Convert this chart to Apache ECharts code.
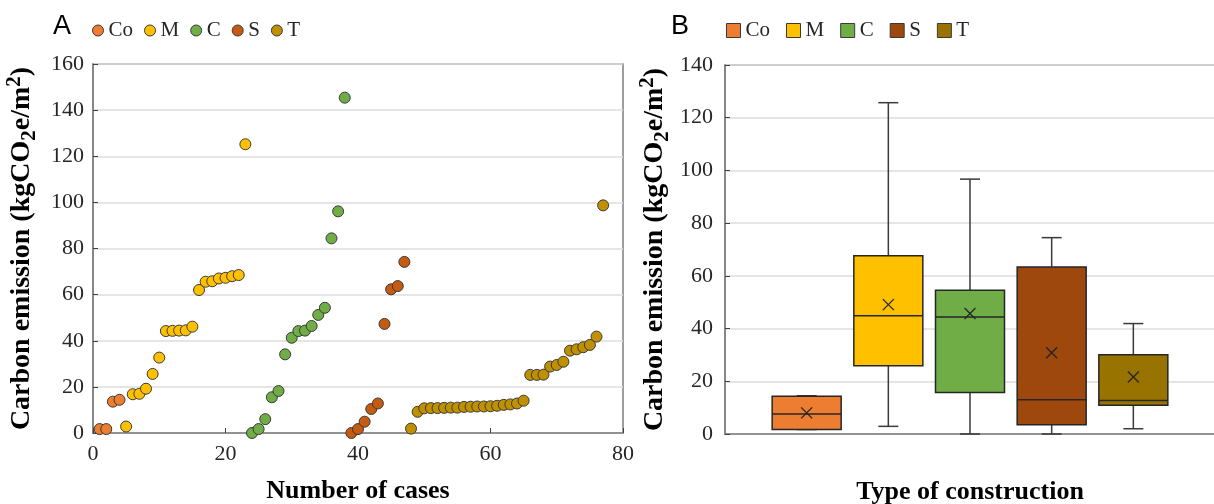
<!DOCTYPE html>
<html>
<head>
<meta charset="utf-8">
<script src="https://cdn.jsdelivr.net/npm/echarts@6/dist/echarts.min.js"></script>
<style>
html,body{margin:0;padding:0;background:#fff;}
#chart{width:1214px;height:504px;}
</style>
</head>
<body>
<div id="chart"></div>
<script>
// ---------- Panel A data (cases numbered consecutively 1..77) ----------
const seriesNames = ['Co', 'M', 'C', 'S', 'T'];
const coValues = [1.7, 1.7, 13.6, 14.4];
const mValues = [2.8, 16.8, 17.0, 19.2, 25.6, 32.7, 44.2, 44.3, 44.4, 44.5, 46.1, 62.0, 65.6, 65.8, 67.0, 67.3, 68.0, 68.5, 125.2];
const cValues = [0.0, 1.7, 6.0, 15.5, 18.2, 34.1, 41.3, 44.2, 44.4, 46.4, 51.2, 54.3, 84.4, 96.1, 145.4];
const sValues = [0.0, 1.7, 4.9, 10.4, 12.8, 47.3, 62.3, 63.7, 74.2];
const tValues = [1.9, 9.2, 10.7, 10.8, 10.8, 10.9, 11.0, 11.0, 11.3, 11.4, 11.5, 11.5, 11.6, 11.8, 12.2, 12.4, 12.8, 14.0,
                 25.2, 25.2, 25.3, 28.8, 29.5, 30.9, 35.7, 36.3, 37.2, 38.2, 41.8, 98.7];
const xTicks = [0, 20, 40, 60, 80];
const yTicksA = [0, 20, 40, 60, 80, 100, 120, 140, 160];

// ---------- Panel B data (box statistics) ----------
const boxCategories = ['Co', 'M', 'C', 'S', 'T'];
const boxMin    = [1.7, 2.9, 0.0, 0.0, 2.0];
const boxQ1     = [1.7, 25.9, 15.7, 3.5, 10.9];
const boxMedian = [7.6, 44.9, 44.4, 13.0, 12.7];
const boxQ3     = [14.3, 67.6, 54.5, 63.4, 30.1];
const boxMax    = [14.5, 125.7, 96.7, 74.5, 41.9];
const boxMean   = [8.0, 49.1, 45.7, 30.8, 21.6];
const yTicksB = [0, 20, 40, 60, 80, 100, 120, 140];

// ---------- styles ----------
const scatterColors = ['#ED7D31', '#FFC000', '#70AD47', '#C55A11', '#BF9000'];
const boxColors = ['#ED7D31', '#FFC000', '#70AD47', '#9E480E', '#997300'];
const serif = 'Liberation Serif, Times New Roman, serif';
const axisGrey = '#7f7f7f';
const gridGrey = '#dcdcdc';
const textCol = '#262626';

const groups = [coValues, mValues, cValues, sValues, tValues];
let caseNo = 0;
const scatterSeries = groups.map((vals, k) => ({
  name: seriesNames[k],
  type: 'scatter',
  xAxisIndex: 0, yAxisIndex: 0,
  symbol: 'circle',
  symbolSize: 11,
  itemStyle: { color: scatterColors[k], borderColor: '#3a3a3a', borderWidth: 1, opacity: 1 },
  data: vals.map(v => { caseNo += 1; return [caseNo, v]; }),
  z: 3
}));

const boxData = boxCategories.map((c, i) => [i + 1, boxMin[i], boxQ1[i], boxMedian[i], boxQ3[i], boxMax[i], boxMean[i], i]);

const boxSeries = {
  type: 'custom',
  xAxisIndex: 1, yAxisIndex: 1,
  data: boxData,
  encode: { x: 0, y: [1, 5] },
  renderItem: function (params, api) {
    const x = api.value(0);
    const idx = api.value(7);
    const pMin = api.coord([x, api.value(1)]);
    const pQ1 = api.coord([x, api.value(2)]);
    const pMed = api.coord([x, api.value(3)]);
    const pQ3 = api.coord([x, api.value(4)]);
    const pMax = api.coord([x, api.value(5)]);
    const pMean = api.coord([x, api.value(6)]);
    const cx = pMed[0];
    const halfBox = 34.5;
    const halfCap = 10;
    const xs = 5.5;
    const lineStyle = { stroke: '#3a3a3a', lineWidth: 1.5 };
    return {
      type: 'group',
      children: [
        { type: 'line', shape: { x1: cx, y1: pMax[1], x2: cx, y2: pQ3[1] }, style: lineStyle },
        { type: 'line', shape: { x1: cx, y1: pQ1[1], x2: cx, y2: pMin[1] }, style: lineStyle },
        { type: 'line', shape: { x1: cx - halfCap, y1: pMax[1], x2: cx + halfCap, y2: pMax[1] }, style: lineStyle },
        { type: 'line', shape: { x1: cx - halfCap, y1: pMin[1], x2: cx + halfCap, y2: pMin[1] }, style: lineStyle },
        { type: 'rect', shape: { x: cx - halfBox, y: pQ3[1], width: halfBox * 2, height: pQ1[1] - pQ3[1] },
          style: { fill: boxColors[idx], stroke: '#262626', lineWidth: 1.5 } },
        { type: 'line', shape: { x1: cx - halfBox, y1: pMed[1], x2: cx + halfBox, y2: pMed[1] }, style: { stroke: '#262626', lineWidth: 1.5 } },
        { type: 'line', shape: { x1: cx - xs, y1: pMean[1] - xs, x2: cx + xs, y2: pMean[1] + xs }, style: { stroke: '#262626', lineWidth: 1.3 } },
        { type: 'line', shape: { x1: cx - xs, y1: pMean[1] + xs, x2: cx + xs, y2: pMean[1] - xs }, style: { stroke: '#262626', lineWidth: 1.3 } }
      ]
    };
  },
  z: 3
};

const legendBSeries = boxCategories.map((c, i) => ({
  name: 'B-' + c,
  type: 'scatter',
  xAxisIndex: 1, yAxisIndex: 1,
  itemStyle: { color: boxColors[i], borderColor: '#3a3a3a', borderWidth: 1, opacity: 1 },
  data: []
}));

const yName = 'Carbon emission (kgCO{sub|2}e/m{sup|2})';
const yNameStyle = {
  fontFamily: serif, fontSize: 28, fontWeight: 'bold', color: '#000', lineHeight: 36,
  rich: {
    sub: { fontFamily: serif, fontSize: 21, fontWeight: 'bold', color: '#000', lineHeight: 21, verticalAlign: 'bottom' },
    sup: { fontFamily: serif, fontSize: 21, fontWeight: 'bold', color: '#000', lineHeight: 21, verticalAlign: 'top' }
  }
};

const option = {
  animation: false,
  backgroundColor: '#ffffff',
  textStyle: { fontFamily: serif },
  graphic: [
    { type: 'text', left: 53, top: 13, style: { text: 'A', fontFamily: 'Liberation Sans, Arial, sans-serif', fontSize: 27, fill: '#000' } },
    { type: 'text', left: 671, top: 13, style: { text: 'B', fontFamily: 'Liberation Sans, Arial, sans-serif', fontSize: 27, fill: '#000' } }
  ],
  legend: [
    {
      left: 92, top: 20, padding: 0,
      itemWidth: 11, itemHeight: 11, itemGap: 11,
      icon: 'circle',
      textStyle: { fontFamily: serif, fontSize: 21, color: textCol },
      data: seriesNames.map((n, i) => ({ name: n, itemStyle: { color: scatterColors[i], borderColor: '#3a3a3a', borderWidth: 1, opacity: 1 } }))
    },
    {
      left: 726, top: 20, padding: 0,
      itemWidth: 14, itemHeight: 14, itemGap: 16,
      icon: 'rect',
      formatter: n => n.replace('B-', ''),
      textStyle: { fontFamily: serif, fontSize: 21, color: textCol },
      data: boxCategories.map((n, i) => ({ name: 'B-' + n, itemStyle: { color: boxColors[i], borderColor: '#3a3a3a', borderWidth: 1, opacity: 1 } }))
    }
  ],
  grid: [
    { left: 93, top: 64, width: 530, height: 369, outerBoundsMode: 'none', containLabel: false,
      show: true, borderColor: axisGrey, borderWidth: 1.5, backgroundColor: 'transparent' },
    { left: 725, top: 65, width: 490, height: 369, outerBoundsMode: 'none', containLabel: false,
      show: true, borderColor: axisGrey, borderWidth: 1.5, backgroundColor: 'transparent' }
  ],
  xAxis: [
    {
      gridIndex: 0, type: 'value', min: xTicks[0], max: xTicks[xTicks.length - 1], interval: 20,
      name: 'Number of cases', nameLocation: 'middle', nameGap: 45,
      nameTextStyle: { fontFamily: serif, fontSize: 26, fontWeight: 'bold', color: '#000' },
      axisLine: { show: true, lineStyle: { color: axisGrey, width: 1.5 } },
      axisTick: { show: true, inside: true, length: 5, lineStyle: { color: '#404040' } },
      axisLabel: { fontFamily: serif, fontSize: 22, color: textCol, margin: 10 },
      splitLine: { show: false }
    },
    {
      gridIndex: 1, type: 'value', min: 0, max: 6,
      name: 'Type of construction', nameLocation: 'middle', nameGap: 45,
      nameTextStyle: { fontFamily: serif, fontSize: 26, fontWeight: 'bold', color: '#000' },
      axisLine: { show: true, lineStyle: { color: axisGrey, width: 1.5 } },
      axisTick: { show: false },
      axisLabel: { show: false },
      splitLine: { show: false }
    }
  ],
  yAxis: [
    {
      gridIndex: 0, type: 'value', min: yTicksA[0], max: yTicksA[yTicksA.length - 1], interval: 20,
      name: yName, nameLocation: 'middle', nameGap: 53,
      nameTextStyle: yNameStyle,
      axisLine: { show: true, lineStyle: { color: axisGrey, width: 1.5 } },
      axisTick: { show: true, inside: true, length: 5, lineStyle: { color: '#404040' } },
      axisLabel: { fontFamily: serif, fontSize: 22, color: textCol, margin: 9 },
      splitLine: { show: true, lineStyle: { color: gridGrey, width: 1.5 } }
    },
    {
      gridIndex: 1, type: 'value', min: yTicksB[0], max: yTicksB[yTicksB.length - 1], interval: 20,
      name: yName, nameLocation: 'middle', nameGap: 52,
      nameTextStyle: yNameStyle,
      axisLine: { show: true, lineStyle: { color: axisGrey, width: 1.5 } },
      axisTick: { show: true, inside: true, length: 5, lineStyle: { color: '#404040' } },
      axisLabel: { fontFamily: serif, fontSize: 22, color: textCol, margin: 12 },
      splitLine: { show: true, lineStyle: { color: gridGrey, width: 1.5 } }
    }
  ],
  series: scatterSeries.concat([boxSeries]).concat(legendBSeries)
};

const chart = echarts.init(document.getElementById('chart'), null, { renderer: 'canvas' });
chart.setOption(option);
</script>
</body>
</html>
